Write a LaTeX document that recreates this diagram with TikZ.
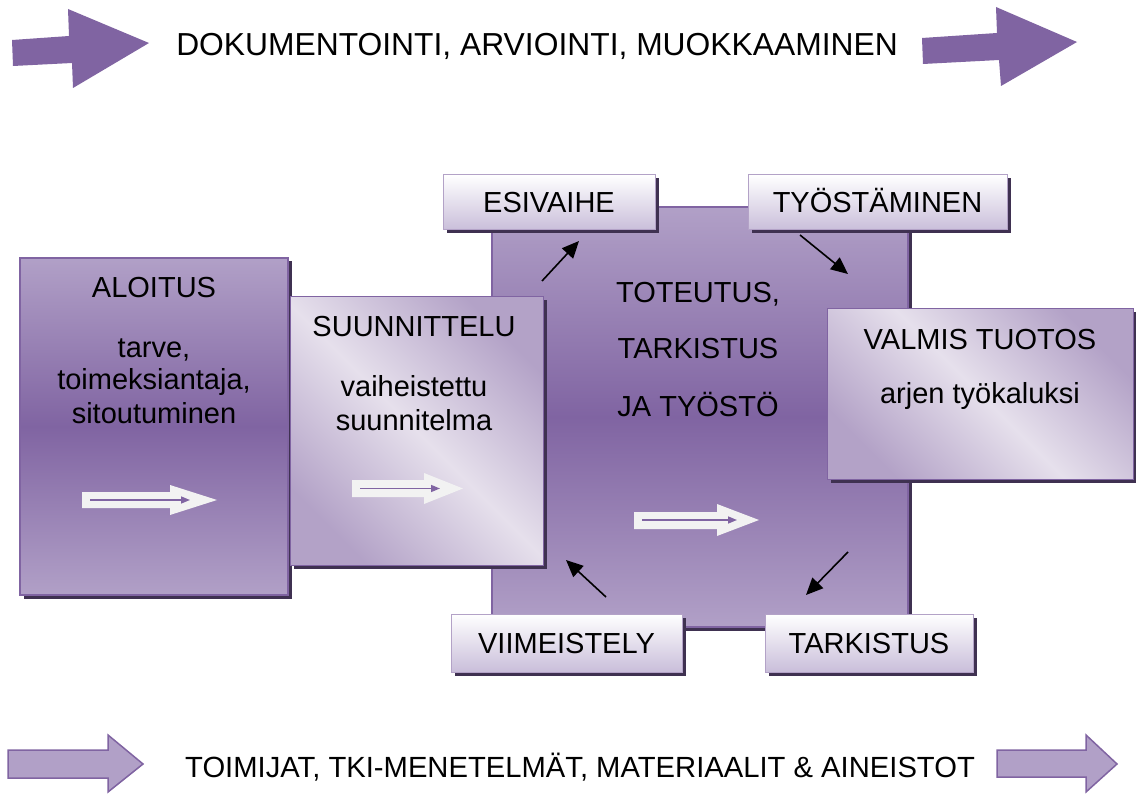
\documentclass[tikz,border=0pt]{standalone}
\usepackage{fontspec}
\setmainfont{Liberation Sans}
\usetikzlibrary{arrows.meta,shadows}
\definecolor{pdark}{HTML}{8064A2}
\definecolor{plight}{HTML}{B1A0C7}
\definecolor{pshadow}{HTML}{3F3151}
\definecolor{plav}{HTML}{E6E0EC}
\definecolor{pborder}{HTML}{B3A2C7}
\definecolor{plabel}{HTML}{C9BEDA}
\definecolor{wfill}{HTML}{F2F2F2}
\begin{document}
\begin{tikzpicture}[x=1pt,y=-1pt,
 sh/.style={drop shadow={shadow xshift=3.5pt,shadow yshift=-3.5pt,fill=pshadow,opacity=1}},
 bigbox/.style={sh,draw=pdark,line width=1.5pt,top color=plight,bottom color=plight,middle color=pdark,inner sep=0pt,outer sep=0pt},
 diagbox/.style={sh,draw=pdark,line width=1pt,top color=pborder,bottom color=pborder,middle color=plav,shading angle=-45,inner sep=0pt,outer sep=0pt},
 labelbox/.style={sh,draw=pborder,line width=1pt,top color=white,bottom color=plabel,inner sep=0pt,outer sep=0pt,font=\fontsize{29}{33}\selectfont,text height=20.8pt,text depth=0pt},
 txt/.style={font=\fontsize{29}{33}\selectfont,anchor=base,inner sep=0pt},
 blk/.style={line width=1.6pt,-{Triangle[length=17pt,width=15pt]}},
 warrow/.style={fill=wfill},
 inarrow/.style={draw=pdark,line width=1.5pt,-{Triangle[length=9pt,width=7pt]}},
 bigarrow/.style={fill=pdark},
 smallarrow/.style={fill=plight,draw=pdark,line width=1.5pt,line join=miter}]
\useasboundingbox (0,0) rectangle (1136,794);
\fill[white] (0,0) rectangle (1136,794);
% top arrows and title
\fill[bigarrow] (12,40) -- (69,36) -- (68,9) -- (149,43) -- (73,88) -- (72,63) -- (13,66) -- cycle;
\fill[bigarrow] (922,38) -- (997,33) -- (996,7) -- (1077,42) -- (1001,86) -- (999,60) -- (923,64) -- cycle;
\node[txt,font=\fontsize{31.8}{35}\selectfont] (toptxt) at (537,56) {DOKUMENTOINTI, ARVIOINTI, MUOKKAAMINEN};
% bottom arrows and text
\draw[smallarrow] (8,750) -- (108,750) -- (108,735) -- (143,764) -- (108,792) -- (108,778) -- (8,778) -- cycle;
\draw[smallarrow] (997,750) -- (1086,750) -- (1086,735) -- (1117,764) -- (1086,792) -- (1086,777) -- (997,777) -- cycle;
\node[txt,font=\fontsize{29.2}{32}\selectfont] (bottxt) at (580,777) {TOIMIJAT, TKI-MENETELMÄT, MATERIAALIT \& AINEISTOT};
% central square
\node[bigbox,minimum width=416pt,minimum height=420pt] (main) at (700,417) {};
\node[txt] (m1) at (698,303) {TOTEUTUS,};
\node[txt] (m2) at (698,359) {TARKISTUS};
\node[txt] (m3) at (698,417) {JA TYÖSTÖ};
\fill[warrow] (634,512) -- (717,512) -- (717,504) -- (759,520) -- (717,536) -- (717,529) -- (634,529) -- cycle;
\draw[inarrow] (642,520) -- (737,520);
% aloitus
\node[bigbox,minimum width=268pt,minimum height=337pt] (aloitus) at (154,426.5) {};
\node[txt] (a0) at (154,298) {ALOITUS};
\node[txt] (a1) at (154,358) {tarve,};
\node[txt] (a2) at (154,390) {toimeksiantaja,};
\node[txt] (a3) at (154,424) {sitoutuminen};
\fill[warrow] (82,492) -- (170,492) -- (170,485) -- (217,500) -- (170,515) -- (170,508) -- (82,508) -- cycle;
\draw[inarrow] (90,500) -- (190,500);
% suunnittelu
\node[diagbox,minimum width=253pt,minimum height=268pt] (suunn) at (416.5,431) {};
\node[txt] (s0) at (414,337) {SUUNNITTELU};
\node[txt] (s1) at (414,396) {vaiheistettu};
\node[txt] (s2) at (414,431) {suunnitelma};
\fill[warrow] (352,480) -- (424,480) -- (424,473) -- (463,488.5) -- (424,504) -- (424,497) -- (352,497) -- cycle;
\draw[inarrow] (360,488.5) -- (440,488.5);
% valmis tuotos
\node[diagbox,minimum width=306pt,minimum height=170pt] (valmis) at (980,394) {};
\node[txt] (v0) at (980,350) {VALMIS TUOTOS};
\node[txt] (v1) at (980,404) {arjen työkaluksi};
% labels
\node[labelbox,minimum width=212pt,minimum height=55pt] (esi) at (549,202.5) {ESIVAIHE};
\node[labelbox,minimum width=259pt,minimum height=55pt] (tyo) at (877.5,202.5) {TYÖSTÄMINEN};
\node[labelbox,minimum width=231pt,minimum height=58pt] (viim) at (566.5,643) {VIIMEISTELY};
\node[labelbox,minimum width=208pt,minimum height=58pt] (tark) at (869,643) {TARKISTUS};
% black arrows
\coordinate (e1) at (542,281); \coordinate (e2) at (579,241);
\coordinate (t1) at (800,235); \coordinate (t2) at (848,274);
\coordinate (k1) at (848,552); \coordinate (k2) at (806,595);
\coordinate (v1s) at (606,597); \coordinate (v2s) at (566,560);
\draw[blk] (e1) -- (e2);
\draw[blk] (t1) -- (t2);
\draw[blk] (k1) -- (k2);
\draw[blk] (v1s) -- (v2s);
\end{tikzpicture}
\end{document}
